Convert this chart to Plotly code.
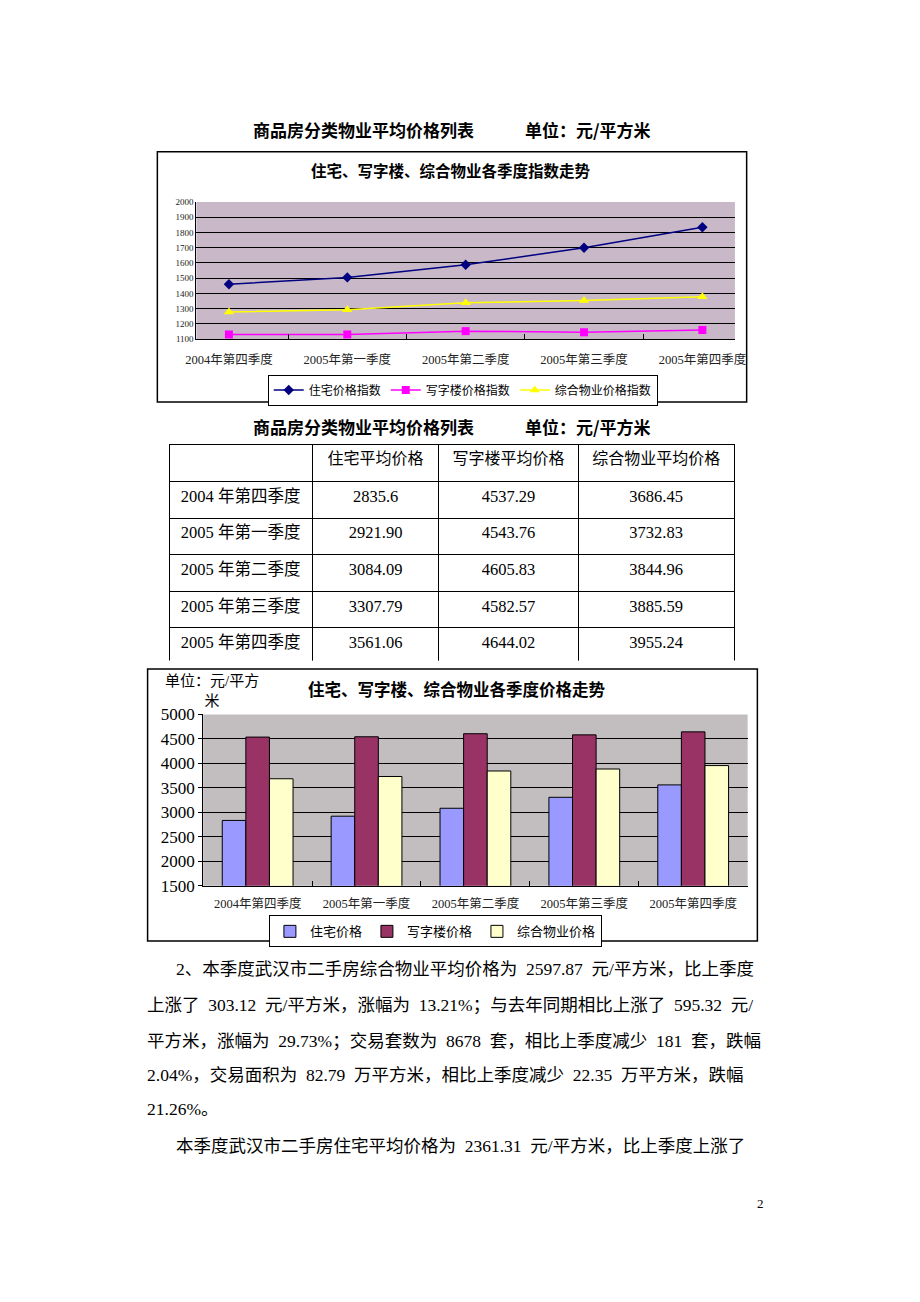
import plotly.graph_objects as go

# The page adds an 8px body margin; size the figure so the page is exactly 920x1302.
PAGE_W, PAGE_H, BODY_M = 920, 1302, 8
W, H = PAGE_W - 2 * BODY_M, PAGE_H - 2 * BODY_M

quarters = ["2004年第四季度", "2005年第一季度", "2005年第二季度", "2005年第三季度", "2005年第四季度"]
table_rows = ["2004 年第四季度", "2005 年第一季度", "2005 年第二季度", "2005 年第三季度", "2005 年第四季度"]

# index trend
res_index = [1460, 1505, 1588, 1700, 1835]
office_index = [1130, 1130, 1152, 1145, 1160]
mixed_index = [1278, 1293, 1338, 1353, 1378]

# average prices (table)
res_price_txt = ["2835.6", "2921.90", "3084.09", "3307.79", "3561.06"]
office_price_txt = ["4537.29", "4543.76", "4605.83", "4582.57", "4644.02"]
mixed_price_txt = ["3686.45", "3732.83", "3844.96", "3885.59", "3955.24"]

res_price = [float(v) for v in res_price_txt]
office_price = [float(v) for v in office_price_txt]
mixed_price = [float(v) for v in mixed_price_txt]

heading = "商品房分类物业平均价格列表　　　单位：元/平方米"
title1 = "住宅、写字楼、综合物业各季度指数走势"
title3 = "住宅、写字楼、综合物业各季度价格走势"
para_lines = [
    "2、本季度武汉市二手房综合物业平均价格为 2597.87 元/平方米，比上季度",
    "上涨了 303.12 元/平方米，涨幅为 13.21%；与去年同期相比上涨了 595.32 元/",
    "平方米，涨幅为 29.73%；交易套数为 8678 套，相比上季度减少 181 套，跌幅",
    "2.04%，交易面积为 82.79 万平方米，相比上季度减少 22.35 万平方米，跌幅",
    "21.26%。",
    "本季度武汉市二手房住宅平均价格为 2361.31 元/平方米，比上季度上涨了",
]

SERIF = "Liberation Serif, Noto Sans CJK SC"
CJK = "Noto Sans CJK SC"
EN_SPACE = "\u2002"


def px(x):
    return (x - BODY_M) / W


def py(y):
    return 1 - (y - BODY_M) / H


fig = go.Figure()

# ---- line chart ----
fig.add_trace(go.Scatter(x=quarters, y=res_index, name="住宅价格指数", mode="lines+markers",
                         line=dict(color="#000080", width=1.5),
                         marker=dict(symbol="diamond", size=8, color="#000080"),
                         xaxis="x", yaxis="y", legend="legend"))
fig.add_trace(go.Scatter(x=quarters, y=office_index, name="写字楼价格指数", mode="lines+markers",
                         line=dict(color="#FF00FF", width=1.5),
                         marker=dict(symbol="square", size=8, color="#FF00FF"),
                         xaxis="x", yaxis="y", legend="legend"))
fig.add_trace(go.Scatter(x=quarters, y=mixed_index, name="综合物业价格指数", mode="lines+markers",
                         line=dict(color="#FFFF00", width=1.5),
                         marker=dict(symbol="triangle-up", size=9, color="#FFFF00"),
                         xaxis="x", yaxis="y", legend="legend"))

# ---- table ----
fig.add_trace(go.Table(
    domain=dict(x=[px(170), px(750)], y=[py(670), py(450)]),
    columnwidth=[147, 130, 143, 160],
    header=dict(values=["", "住宅平均价格", "写字楼平均价格", "综合物业平均价格"],
                height=37, align="center",
                fill=dict(color="white"), line=dict(color="black", width=1),
                font=dict(family=SERIF, size=16, color="black")),
    cells=dict(values=[table_rows, res_price_txt, office_price_txt, mixed_price_txt],
               height=36.6, align="center",
               fill=dict(color="white"), line=dict(color="black", width=1),
               font=dict(family=SERIF, size=16.5, color="black")),
))

# ---- bar chart ----
bar_specs = [("住宅价格", res_price, "#9999FF"),
             ("写字楼价格", office_price, "#993366"),
             ("综合物业价格", mixed_price, "#FFFFCC")]
for name, vals, col in bar_specs:
    fig.add_trace(go.Bar(x=quarters, y=vals, name=name,
                         marker=dict(color=col, line=dict(color="black", width=1)),
                         xaxis="x2", yaxis="y2", legend="legend2"))

fig.update_layout(
    width=W, height=H, margin=dict(l=0, r=0, t=0, b=0),
    paper_bgcolor="white", plot_bgcolor="rgba(0,0,0,0)",
    barmode="group", bargap=0.35, bargroupgap=0,
    xaxis=dict(domain=[px(198), px(750)], type="category", showgrid=False,
               showline=True, linecolor="black", linewidth=1,
               ticks="inside", tickson="boundaries", ticklen=5, tickcolor="black",
               ticklabelstandoff=9,
               tickfont=dict(family=SERIF, size=12.5, color="#222"), anchor="y"),
    yaxis=dict(domain=[py(343), py(204)], range=[1100, 2000], dtick=100, tickformat="d",
               showgrid=True, gridcolor="black", gridwidth=1,
               showline=True, linecolor="black", linewidth=1, ticks="",
               tickfont=dict(family=SERIF, size=9, color="#222"), anchor="x", zeroline=False),
    xaxis2=dict(domain=[px(205), px(763)], type="category", showgrid=False,
                showline=True, linecolor="black", linewidth=1,
                ticks="inside", tickson="boundaries", ticklen=5, tickcolor="black",
                ticklabelstandoff=6,
                tickfont=dict(family=SERIF, size=12.5, color="#222"), anchor="y2"),
    yaxis2=dict(domain=[py(898), py(724)], range=[1500, 5000], dtick=500, tickformat="d",
                showgrid=True, gridcolor="black", gridwidth=1,
                showline=True, linecolor="black", linewidth=1, ticks="outside", ticklen=4,
                tickcolor="black",
                tickfont=dict(family=SERIF, size=17, color="black"), anchor="x2", zeroline=False),
    legend=dict(orientation="h", x=px(471), y=py(379), xanchor="center", yanchor="top",
                bordercolor="black", borderwidth=1, bgcolor="white", itemwidth=30,
                font=dict(family=SERIF, size=12, color="black"), tracegroupgap=0),
    legend2=dict(orientation="h", x=px(443), y=py(928), xanchor="center", yanchor="top",
                 bordercolor="black", borderwidth=1, bgcolor="white", itemwidth=30,
                 font=dict(family=SERIF, size=13, color="black")),
    showlegend=True,
)

shapes = [
    dict(type="rect", xref="x domain", yref="y domain", x0=0, x1=1, y0=0, y1=1,
         fillcolor="#C9B9C8", line=dict(width=0), layer="below"),
    dict(type="rect", xref="x2 domain", yref="y2 domain", x0=0, x1=1, y0=0, y1=1,
         fillcolor="#C2BEBF", line=dict(width=0), layer="below"),
    dict(type="rect", xref="paper", yref="paper", x0=px(158), x1=px(762), y0=py(407), y1=py(153),
         line=dict(color="black", width=1.5)),
    dict(type="rect", xref="paper", yref="paper", x0=px(148), x1=px(773), y0=py(954), y1=py(678),
         line=dict(color="black", width=1.5)),
]
fig.update_layout(shapes=shapes)

ann = []
for hy in (130, 432):
    ann.append(dict(text="<b>" + heading + "</b>", x=px(460), y=py(hy), xref="paper", yref="paper",
                    showarrow=False, font=dict(family=CJK, size=17, color="black"),
                    xanchor="center", yanchor="middle"))
ann.append(dict(text="<b>" + title1 + "</b>", x=px(459), y=py(171), xref="paper", yref="paper", showarrow=False,
                font=dict(family=CJK, size=15.5, color="black"), xanchor="center", yanchor="middle"))
ann.append(dict(text="<b>" + title3 + "</b>", x=px(465), y=py(698), xref="paper", yref="paper", showarrow=False,
                font=dict(family=CJK, size=16.5, color="black"), xanchor="center", yanchor="middle"))
ann.append(dict(text="单位：元/平方<br>米", x=px(214), y=py(700), xref="paper", yref="paper", showarrow=False,
                align="center", font=dict(family=SERIF, size=15, color="black"),
                xanchor="center", yanchor="middle"))

line_y = [982, 1019, 1055, 1090, 1125, 1162]
line_x = [175, 145, 145, 145, 145, 175]
for t, yy, xx in zip(para_lines, line_y, line_x):
    ann.append(dict(text=t.replace(" ", EN_SPACE), x=px(xx), y=py(yy), xref="paper", yref="paper",
                    showarrow=False, font=dict(family=SERIF, size=17.5, color="black"),
                    xanchor="left", yanchor="middle"))
ann.append(dict(text="2", x=px(776), y=py(1220), xref="paper", yref="paper", showarrow=False,
                font=dict(family=SERIF, size=13, color="black"), xanchor="center", yanchor="middle"))
fig.update_layout(annotations=ann)

fig.write_html("out.html")
